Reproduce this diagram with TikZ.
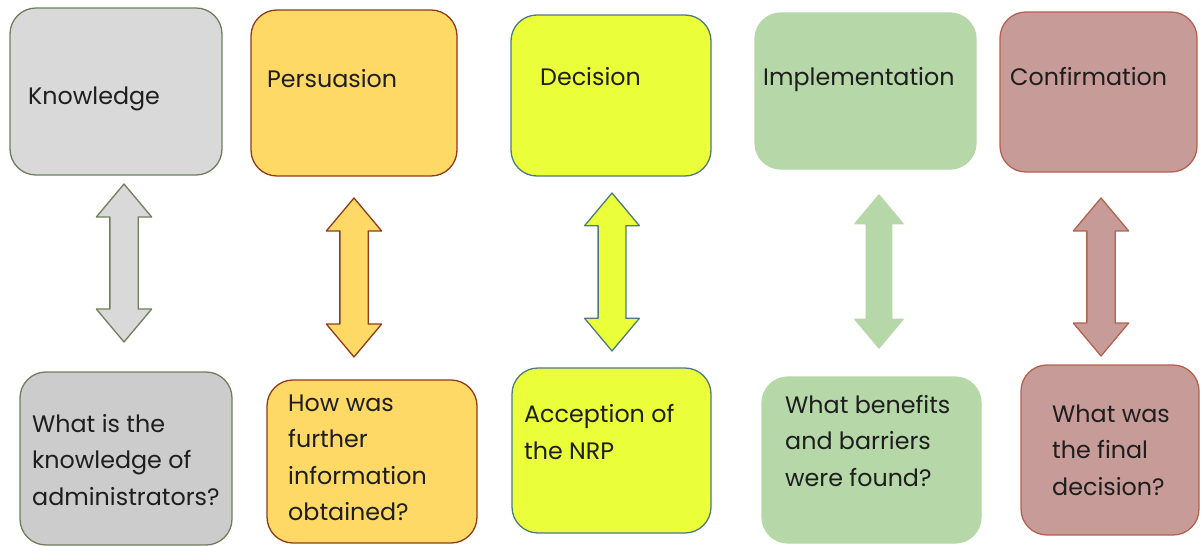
\documentclass[tikz,border=0pt]{standalone}
\usepackage{fontspec}
\setmainfont{Poppins}
\usetikzlibrary{shapes.arrows}
\definecolor{grayfill}{HTML}{D9D9D9}
\definecolor{graydark}{HTML}{CCCCCC}
\definecolor{grayline}{HTML}{6E7F5B}
\definecolor{persfill}{HTML}{FFD966}
\definecolor{persline}{HTML}{8E3B1A}
\definecolor{decfill}{HTML}{EBFE3A}
\definecolor{decline}{HTML}{4D7A80}
\definecolor{impfill}{HTML}{B6D7A8}
\definecolor{confill}{HTML}{C79B97}
\definecolor{conline}{HTML}{B5614F}
\definecolor{txt}{HTML}{1E1E1E}
\begin{document}
\begin{tikzpicture}[line cap=round,line join=round,x=1pt,y=-1pt,
	box/.style={draw,rounded corners=26pt,line width=1.3pt,inner sep=0pt},
	lbl/.style={anchor=west,align=left,inner sep=0pt,text=txt,font=\fontsize{23.8}{36.5}\selectfont},
	dbl/.style={double arrow,rotate=90,inner xsep=0pt,inner ysep=13.5pt,minimum width=54pt,double arrow head extend=13.5pt,double arrow tip angle=80,line width=1.3pt}]
		\useasboundingbox (0,0) rectangle (1202,546);
		\node [box,fill=grayfill,draw=grayline,minimum width=212pt,minimum height=167pt] (kn) at (116,91.5) {};
		\node [box,fill=persfill,draw=persline,minimum width=206pt,minimum height=166pt] (pe) at (354,93) {};
		\node [box,fill=decfill,draw=decline,minimum width=200pt,minimum height=161pt] (de) at (611,95.5) {};
		\node [box,fill=impfill,draw=impfill,minimum width=221pt,minimum height=156pt] (im) at (865.5,91) {};
		\node [box,fill=confill,draw=conline,minimum width=197pt,minimum height=160pt] (co) at (1098.5,92) {};
		\node [box,fill=graydark,draw=grayline,minimum width=212pt,minimum height=173pt] (qkn) at (126,458.5) {};
		\node [box,fill=persfill,draw=persline,minimum width=210pt,minimum height=163pt] (qpe) at (372,461.5) {};
		\node [box,fill=decfill,draw=decline,minimum width=199pt,minimum height=165pt] (qde) at (611.5,450.5) {};
		\node [box,fill=impfill,draw=impfill,minimum width=219pt,minimum height=166pt] (qim) at (871.5,460) {};
		\node [box,fill=confill,draw=conline,minimum width=178pt,minimum height=170pt] (qco) at (1110,450) {};
		\node [dbl,fill=grayfill,draw=grayline,minimum height=158pt] (akn) at (124,263) {};
		\node [dbl,fill=persfill,draw=persline,minimum height=159pt] (ape) at (354,277.5) {};
		\node [dbl,fill=decfill,draw=decline,minimum height=158pt,inner ysep=13.25pt] (ade) at (612,272) {};
		\node [dbl,fill=impfill,draw=impfill,minimum height=153pt,inner ysep=12pt,minimum width=47pt,double arrow head extend=11.5pt] (aim) at (879,271.5) {};
		\node [dbl,fill=confill,draw=conline,minimum height=158pt] (aco) at (1101,277) {};
		\node [lbl] (tkn) at (28,99) {Knowledge};
		\node [lbl] (tpe) at (267,79) {Persuasion};
		\node [lbl] (tde) at (540,77) {Decision};
		\node [lbl] (tim) at (763,80) {Implementation};
		\node [lbl] (tco) at (1010,77) {Confirmation};
		\node [lbl] (tqkn) at (32,460) {What is the\\knowledge of\\administrators?};
		\node [lbl] (tqpe) at (288,458) {How was\\further\\information\\obtained?};
		\node [lbl] (tqde) at (524,432) {Acception of\\the NRP};
		\node [lbl] (tqim) at (785,441) {What benefits\\and barriers\\were found?};
		\node [lbl] (tqco) at (1052,450) {What was\\the final\\decision?};
	\end{tikzpicture}
\end{document}
